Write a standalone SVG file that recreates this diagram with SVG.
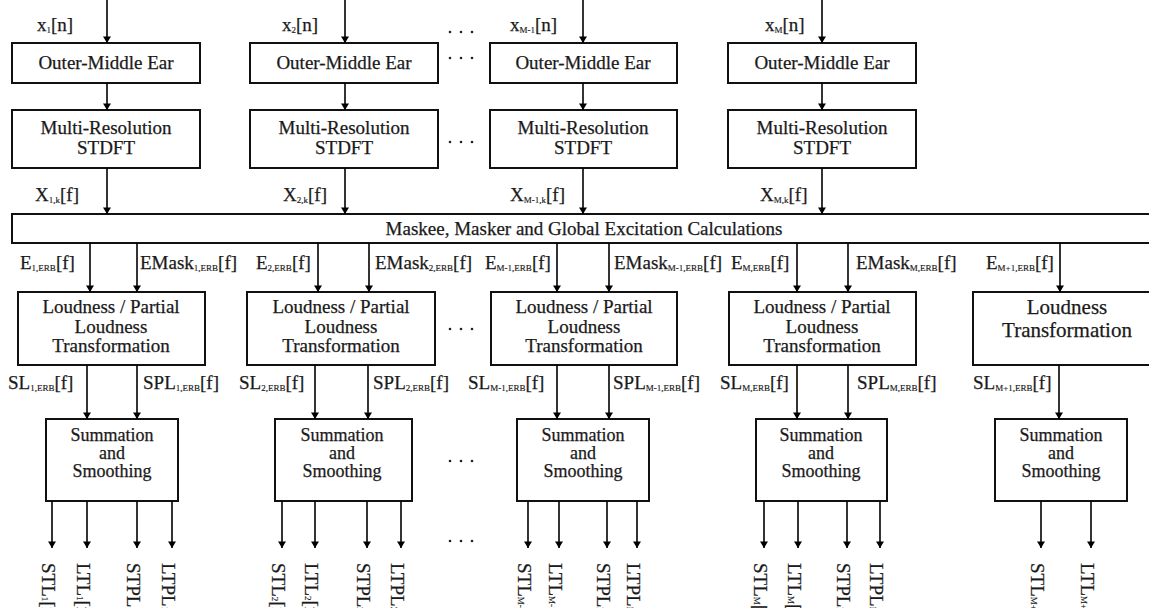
<svg xmlns="http://www.w3.org/2000/svg" width="1149" height="608" viewBox="0 0 1149 608">
<defs>
<marker id="ah" viewBox="0 0 8 10" refX="8" refY="5" markerWidth="10" markerHeight="8" markerUnits="userSpaceOnUse" orient="auto">
<path d="M0,0 L8,5 L0,10 z" fill="#000"/>
</marker>
<style>
.box{fill:#fff;stroke:#111;stroke-width:2}
text{font-family:'Liberation Serif','Times New Roman','DejaVu Serif',serif;fill:#1a1a1a;stroke:#1a1a1a;stroke-width:0.25}
.t{font-size:19px;text-anchor:middle}
.ts{font-size:18px;text-anchor:middle}
.tl{font-size:21px;text-anchor:middle}
.lbl{font-size:19px}
.sub{font-size:9px;stroke-width:0.15}
.conn line{stroke:#000;stroke-width:1.6;marker-end:url(#ah)}
.dots circle{fill:#222}
</style>
</defs>
<rect width="1149" height="608" fill="#fff"/>

<g id="ome1"><rect class="box" x="12" y="43" width="188" height="40"/><text class="t" x="106" y="69">Outer-Middle Ear</text></g>
<g id="ome2"><rect class="box" x="250" y="43" width="188" height="40"/><text class="t" x="344" y="69">Outer-Middle Ear</text></g>
<g id="ome3"><rect class="box" x="490" y="43" width="187" height="40"/><text class="t" x="583" y="69">Outer-Middle Ear</text></g>
<g id="ome4"><rect class="box" x="728" y="43" width="188" height="40"/><text class="t" x="822" y="69">Outer-Middle Ear</text></g>

<g id="stdft1"><rect class="box" x="12" y="110" width="188" height="58"/><text class="t" x="106" y="134">Multi-Resolution</text><text class="t" x="106" y="154">STDFT</text></g>
<g id="stdft2"><rect class="box" x="250" y="110" width="188" height="58"/><text class="t" x="344" y="134">Multi-Resolution</text><text class="t" x="344" y="154">STDFT</text></g>
<g id="stdft3"><rect class="box" x="490" y="110" width="187" height="58"/><text class="t" x="583" y="134">Multi-Resolution</text><text class="t" x="583" y="154">STDFT</text></g>
<g id="stdft4"><rect class="box" x="728" y="110" width="188" height="58"/><text class="t" x="822" y="134">Multi-Resolution</text><text class="t" x="822" y="154">STDFT</text></g>

<g id="global"><rect class="box" x="12" y="214" width="1150" height="29"/><text class="t" x="584" y="235">Maskee, Masker and Global Excitation Calculations</text></g>

<g id="loud1"><rect class="box" x="18" y="292" width="187" height="73"/><text class="t" x="111" y="313">Loudness / Partial</text><text class="t" x="111" y="333">Loudness</text><text class="t" x="111" y="352">Transformation</text></g>
<g id="loud2"><rect class="box" x="247" y="292" width="188" height="73"/><text class="t" x="341" y="313">Loudness / Partial</text><text class="t" x="341" y="333">Loudness</text><text class="t" x="341" y="352">Transformation</text></g>
<g id="loud3"><rect class="box" x="491" y="292" width="186" height="73"/><text class="t" x="584" y="313">Loudness / Partial</text><text class="t" x="584" y="333">Loudness</text><text class="t" x="584" y="352">Transformation</text></g>
<g id="loud4"><rect class="box" x="729" y="292" width="187" height="73"/><text class="t" x="822" y="313">Loudness / Partial</text><text class="t" x="822" y="333">Loudness</text><text class="t" x="822" y="352">Transformation</text></g>
<g id="loud5"><rect class="box" x="973" y="292" width="190" height="73"/><text class="tl" x="1067" y="314">Loudness</text><text class="tl" x="1067" y="337">Transformation</text></g>

<g id="sum1"><rect class="box" x="46" y="419" width="132" height="82"/><text class="ts" x="112" y="441">Summation</text><text class="ts" x="112" y="459">and</text><text class="ts" x="112" y="477">Smoothing</text></g>
<g id="sum2"><rect class="box" x="275" y="419" width="137" height="82"/><text class="ts" x="342" y="441">Summation</text><text class="ts" x="342" y="459">and</text><text class="ts" x="342" y="477">Smoothing</text></g>
<g id="sum3"><rect class="box" x="517" y="419" width="132" height="82"/><text class="ts" x="583" y="441">Summation</text><text class="ts" x="583" y="459">and</text><text class="ts" x="583" y="477">Smoothing</text></g>
<g id="sum4"><rect class="box" x="756" y="419" width="131" height="82"/><text class="ts" x="821" y="441">Summation</text><text class="ts" x="821" y="459">and</text><text class="ts" x="821" y="477">Smoothing</text></g>
<g id="sum5"><rect class="box" x="995" y="419" width="132" height="82"/><text class="ts" x="1061" y="441">Summation</text><text class="ts" x="1061" y="459">and</text><text class="ts" x="1061" y="477">Smoothing</text></g>

<g id="connectors" class="conn">
<line x1="107" y1="0" x2="107" y2="43"/><line x1="345" y1="0" x2="345" y2="43"/><line x1="583" y1="0" x2="583" y2="43"/><line x1="822" y1="0" x2="822" y2="43"/>
<line x1="107" y1="83" x2="107" y2="110"/><line x1="345" y1="83" x2="345" y2="110"/><line x1="583" y1="83" x2="583" y2="110"/><line x1="822" y1="83" x2="822" y2="110"/>
<line x1="107" y1="168" x2="107" y2="214"/><line x1="345" y1="168" x2="345" y2="214"/><line x1="583" y1="168" x2="583" y2="214"/><line x1="822" y1="168" x2="822" y2="214"/>
<line x1="90" y1="243" x2="90" y2="292"/><line x1="137" y1="243" x2="137" y2="292"/>
<line x1="318" y1="243" x2="318" y2="292"/><line x1="369" y1="243" x2="369" y2="292"/>
<line x1="557" y1="243" x2="557" y2="292"/><line x1="609" y1="243" x2="609" y2="292"/>
<line x1="797" y1="243" x2="797" y2="292"/><line x1="848" y1="243" x2="848" y2="292"/>
<line x1="1060" y1="243" x2="1060" y2="292"/>
<line x1="87" y1="365" x2="87" y2="419"/><line x1="137" y1="365" x2="137" y2="419"/>
<line x1="315" y1="365" x2="315" y2="419"/><line x1="368" y1="365" x2="368" y2="419"/>
<line x1="557" y1="365" x2="557" y2="419"/><line x1="609" y1="365" x2="609" y2="419"/>
<line x1="797" y1="365" x2="797" y2="419"/><line x1="848" y1="365" x2="848" y2="419"/>
<line x1="1059" y1="365" x2="1059" y2="419"/>
<line x1="52" y1="501" x2="52" y2="548"/><line x1="87" y1="501" x2="87" y2="548"/><line x1="137" y1="501" x2="137" y2="548"/><line x1="172" y1="501" x2="172" y2="548"/>
<line x1="282" y1="501" x2="282" y2="548"/><line x1="315" y1="501" x2="315" y2="548"/><line x1="367" y1="501" x2="367" y2="548"/><line x1="401" y1="501" x2="401" y2="548"/>
<line x1="528" y1="501" x2="528" y2="548"/><line x1="559" y1="501" x2="559" y2="548"/><line x1="607" y1="501" x2="607" y2="548"/><line x1="637" y1="501" x2="637" y2="548"/>
<line x1="764" y1="501" x2="764" y2="548"/><line x1="798" y1="501" x2="798" y2="548"/><line x1="847" y1="501" x2="847" y2="548"/><line x1="880" y1="501" x2="880" y2="548"/>
<line x1="1041" y1="501" x2="1041" y2="548"/><line x1="1091" y1="501" x2="1091" y2="548"/>
</g>

<g id="labels">
<text class="lbl" x="37" y="31">x<tspan class="sub" dy="2">1</tspan><tspan dy="-2">[n]</tspan></text>
<text class="lbl" x="282" y="31">x<tspan class="sub" dy="2">2</tspan><tspan dy="-2">[n]</tspan></text>
<text class="lbl" x="510" y="31">x<tspan class="sub" dy="2">M-1</tspan><tspan dy="-2">[n]</tspan></text>
<text class="lbl" x="765" y="31">x<tspan class="sub" dy="2">M</tspan><tspan dy="-2">[n]</tspan></text>

<text class="lbl" x="35" y="201">X<tspan class="sub" dy="2">1,k</tspan><tspan dy="-2">[f]</tspan></text>
<text class="lbl" x="283" y="201">X<tspan class="sub" dy="2">2,k</tspan><tspan dy="-2">[f]</tspan></text>
<text class="lbl" x="510" y="201">X<tspan class="sub" dy="2">M-1,k</tspan><tspan dy="-2">[f]</tspan></text>
<text class="lbl" x="760" y="201">X<tspan class="sub" dy="2">M,k</tspan><tspan dy="-2">[f]</tspan></text>

<text class="lbl" x="20" y="269">E<tspan class="sub" dy="2">1,ERB</tspan><tspan dy="-2">[f]</tspan></text>
<text class="lbl" x="140" y="269">EMask<tspan class="sub" dy="2">1,ERB</tspan><tspan dy="-2">[f]</tspan></text>
<text class="lbl" x="256" y="269">E<tspan class="sub" dy="2">2,ERB</tspan><tspan dy="-2">[f]</tspan></text>
<text class="lbl" x="375" y="269">EMask<tspan class="sub" dy="2">2,ERB</tspan><tspan dy="-2">[f]</tspan></text>
<text class="lbl" x="485" y="269">E<tspan class="sub" dy="2">M-1,ERB</tspan><tspan dy="-2">[f]</tspan></text>
<text class="lbl" x="614" y="269">EMask<tspan class="sub" dy="2">M-1,ERB</tspan><tspan dy="-2">[f]</tspan></text>
<text class="lbl" x="731" y="269">E<tspan class="sub" dy="2">M,ERB</tspan><tspan dy="-2">[f]</tspan></text>
<text class="lbl" x="856" y="269">EMask<tspan class="sub" dy="2">M,ERB</tspan><tspan dy="-2">[f]</tspan></text>
<text class="lbl" x="986" y="269">E<tspan class="sub" dy="2">M+1,ERB</tspan><tspan dy="-2">[f]</tspan></text>

<text class="lbl" x="8" y="389">SL<tspan class="sub" dy="2">1,ERB</tspan><tspan dy="-2">[f]</tspan></text>
<text class="lbl" x="143" y="389">SPL<tspan class="sub" dy="2">1,ERB</tspan><tspan dy="-2">[f]</tspan></text>
<text class="lbl" x="239" y="389">SL<tspan class="sub" dy="2">2,ERB</tspan><tspan dy="-2">[f]</tspan></text>
<text class="lbl" x="373" y="389">SPL<tspan class="sub" dy="2">2,ERB</tspan><tspan dy="-2">[f]</tspan></text>
<text class="lbl" x="468" y="389">SL<tspan class="sub" dy="2">M-1,ERB</tspan><tspan dy="-2">[f]</tspan></text>
<text class="lbl" x="613" y="389">SPL<tspan class="sub" dy="2">M-1,ERB</tspan><tspan dy="-2">[f]</tspan></text>
<text class="lbl" x="720" y="389">SL<tspan class="sub" dy="2">M,ERB</tspan><tspan dy="-2">[f]</tspan></text>
<text class="lbl" x="857" y="389">SPL<tspan class="sub" dy="2">M,ERB</tspan><tspan dy="-2">[f]</tspan></text>
<text class="lbl" x="973" y="389">SL<tspan class="sub" dy="2">M+1,ERB</tspan><tspan dy="-2">[f]</tspan></text>

<text class="lbl" transform="translate(42,563) rotate(90)">STL<tspan class="sub">1</tspan>[n]</text>
<text class="lbl" transform="translate(77,563) rotate(90)">LTL<tspan class="sub">1</tspan>[n]</text>
<text class="lbl" transform="translate(127,563) rotate(90)">STPL<tspan class="sub">1</tspan>[n]</text>
<text class="lbl" transform="translate(162,563) rotate(90)">LTPL<tspan class="sub">1</tspan>[n]</text>
<text class="lbl" transform="translate(272,563) rotate(90)">STL<tspan class="sub">2</tspan>[n]</text>
<text class="lbl" transform="translate(305,563) rotate(90)">LTL<tspan class="sub">2</tspan>[n]</text>
<text class="lbl" transform="translate(357,563) rotate(90)">STPL<tspan class="sub">2</tspan>[n]</text>
<text class="lbl" transform="translate(391,563) rotate(90)">LTPL<tspan class="sub">2</tspan>[n]</text>
<text class="lbl" transform="translate(518,563) rotate(90)">STL<tspan class="sub">M-1</tspan>[n]</text>
<text class="lbl" transform="translate(549,563) rotate(90)">LTL<tspan class="sub">M-1</tspan>[n]</text>
<text class="lbl" transform="translate(597,563) rotate(90)">STPL<tspan class="sub">M-1</tspan>[n]</text>
<text class="lbl" transform="translate(627,563) rotate(90)">LTPL<tspan class="sub">M-1</tspan>[n]</text>
<text class="lbl" transform="translate(754,563) rotate(90)">STL<tspan class="sub">M</tspan>[n]</text>
<text class="lbl" transform="translate(788,563) rotate(90)">LTL<tspan class="sub">M</tspan>[n]</text>
<text class="lbl" transform="translate(837,563) rotate(90)">STPL<tspan class="sub">M</tspan>[n]</text>
<text class="lbl" transform="translate(870,563) rotate(90)">LTPL<tspan class="sub">M</tspan>[n]</text>
<text class="lbl" transform="translate(1031,563) rotate(90)">STL<tspan class="sub">M+1</tspan>[n]</text>
<text class="lbl" transform="translate(1081,563) rotate(90)">LTL<tspan class="sub">M+1</tspan>[n]</text>
</g>

<g id="ellipses" class="dots">
<circle cx="450" cy="32" r="1.3"/><circle cx="461" cy="32" r="1.3"/><circle cx="472" cy="32" r="1.3"/>
<circle cx="450" cy="58" r="1.3"/><circle cx="461" cy="58" r="1.3"/><circle cx="472" cy="58" r="1.3"/>
<circle cx="450" cy="142" r="1.3"/><circle cx="461" cy="142" r="1.3"/><circle cx="472" cy="142" r="1.3"/>
<circle cx="450" cy="329" r="1.3"/><circle cx="461" cy="329" r="1.3"/><circle cx="472" cy="329" r="1.3"/>
<circle cx="450" cy="461" r="1.3"/><circle cx="461" cy="461" r="1.3"/><circle cx="472" cy="461" r="1.3"/>
<circle cx="450" cy="541" r="1.3"/><circle cx="461" cy="541" r="1.3"/><circle cx="472" cy="541" r="1.3"/>
</g>
</svg>
